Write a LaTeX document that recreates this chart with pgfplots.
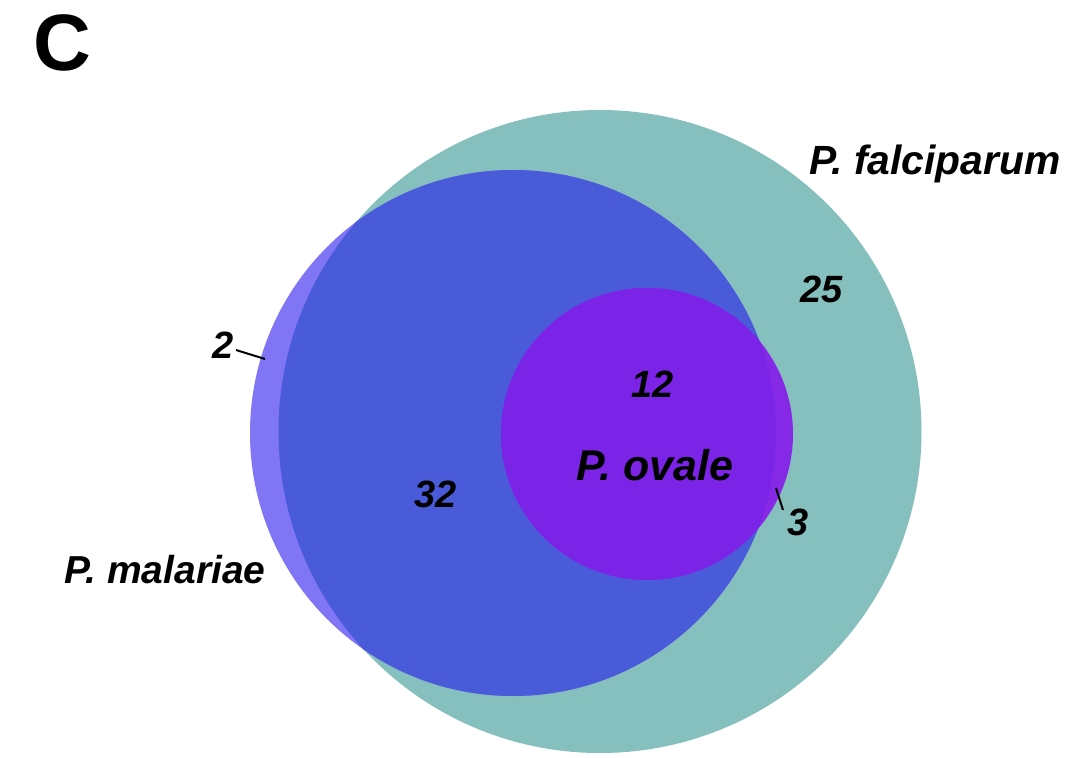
\documentclass[border=0pt]{standalone}
\usepackage{fontspec}
\setmainfont{Liberation Sans}
\usepackage{pgfplots}
\pgfplotsset{compat=1.18}
\definecolor{falcTeal}{HTML}{86C0BE}
\definecolor{malLight}{HTML}{7F75F5}
\definecolor{malDark}{HTML}{4A5BDA}
\definecolor{ovPurple}{HTML}{7B24E7}
\definecolor{ovOut}{HTML}{8529E6}
\tikzset{lbl/.style={font=\bfseries\itshape\fontsize{19.5pt}{22pt}\selectfont, text=black, anchor=base, inner sep=0pt},
         num/.style={font=\bfseries\itshape\fontsize{19pt}{22pt}\selectfont, text=black, anchor=base, inner sep=0pt}}
\begin{document}
\begin{tikzpicture}
\begin{axis}[
    width=536.5pt, height=378.5pt, scale only axis,
    xmin=0, xmax=1073, ymin=0, ymax=757,
    hide axis, clip=false,
]
% page frame (image is 1073 x 757 px, y upwards)
\fill[white] (axis cs:0,0) rectangle (axis cs:1073,757);
% P. falciparum
\fill[falcTeal] (axis cs:600,325.5) circle[radius=321.5];
% P. malariae
\fill[malLight] (axis cs:513,324) circle[radius=263];
\begin{scope}
  \clip (axis cs:600,325.5) circle[radius=321.5];
  \fill[malDark] (axis cs:513,324) circle[radius=263];
\end{scope}
% P. ovale
\fill[ovOut] (axis cs:647,323) circle[radius=146];
\begin{scope}
  \clip (axis cs:513,324) circle[radius=263];
  \fill[ovPurple] (axis cs:647,323) circle[radius=146];
\end{scope}
% leader lines
\draw[black, line width=1pt] (axis cs:236,407) -- (axis cs:265,398);
\draw[black, line width=1pt] (axis cs:776,269) -- (axis cs:783,247);
% labels
\node[anchor=base, inner sep=0pt, font=\bfseries\fontsize{40pt}{44pt}\selectfont] at (axis cs:62,686) {C};
\node[lbl, font=\bfseries\itshape\fontsize{20.4pt}{23pt}\selectfont] at (axis cs:935,582) {P. falciparum};
\node[lbl] at (axis cs:165,174) {P. malariae};
\node[lbl, font=\bfseries\itshape\fontsize{21.5pt}{24pt}\selectfont] at (axis cs:655,277) {P. ovale};
\node[num] at (axis cs:822,454) {25};
\node[num] at (axis cs:653,359) {12};
\node[num] at (axis cs:436,250) {32};
\node[num] at (axis cs:223,399) {2};
\node[num] at (axis cs:798,222) {3};
\end{axis}
\end{tikzpicture}
\end{document}
